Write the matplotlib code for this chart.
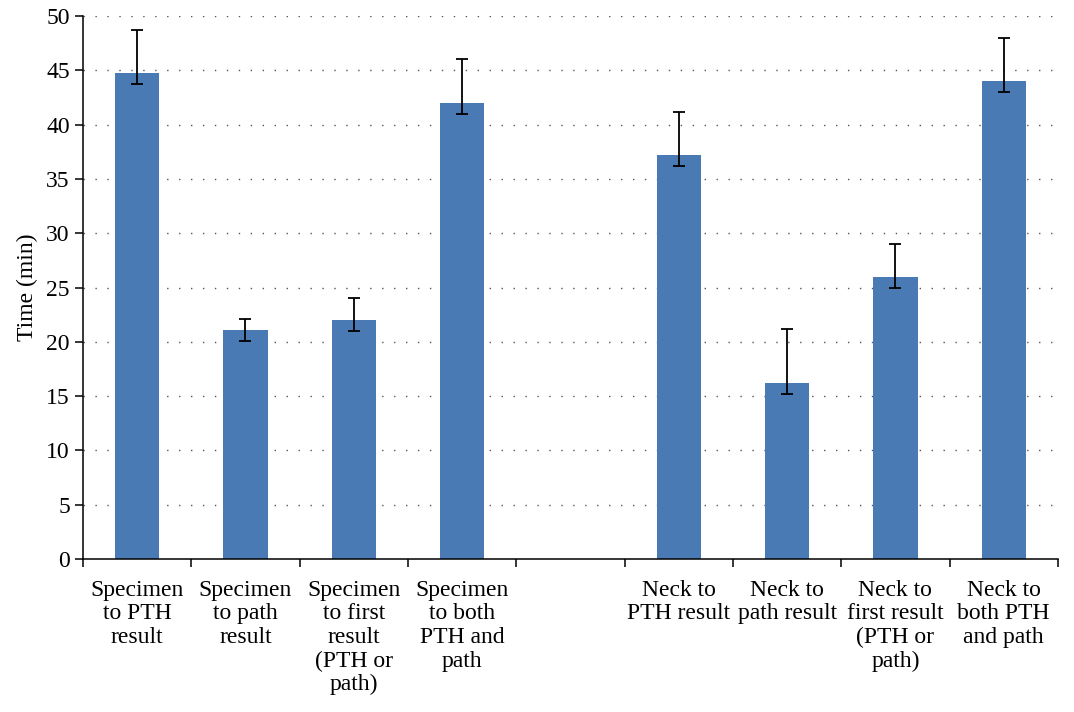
import numpy as np
import matplotlib
matplotlib.use("Agg")
import matplotlib.pyplot as plt

labels = ["Specimen\nto PTH\nresult", "Specimen\nto path\nresult",
          "Specimen\nto first\nresult\n(PTH or\npath)", "Specimen\nto both\nPTH and\npath",
          "", "Neck to\nPTH result", "Neck to\npath result",
          "Neck to\nfirst result\n(PTH or\npath)", "Neck to\nboth PTH\nand path"]
times = [44.75, 21.1, 22.0, 42.0, np.nan, 37.2, 16.2, 26.0, 44.0]
err_low = [1, 1, 1, 1, 0, 1, 1, 1, 1]
err_high = [4, 1, 2, 4, 0, 4, 5, 3, 4]

plt.rcParams['font.family'] = ['Liberation Serif', 'DejaVu Serif']
plt.rcParams['font.size'] = 17

fig = plt.figure(figsize=(10.74, 7.12), dpi=100)
ax = fig.add_axes([0.0773, 0.2149, 0.9077, 0.7626])

x = np.arange(len(times))
ax.bar(x, times, width=0.41, color='#4a7ab4', zorder=2)
ax.errorbar(x, times, yerr=[err_low, err_high], fmt='none', ecolor='black',
            elinewidth=1.3, capsize=4, capthick=1.3, zorder=3)

ax.set_xlim(-0.5, len(times) - 0.5)
ax.set_ylim(0, 50)
ax.set_yticks(np.arange(0, 51, 5))
ax.set_ylabel('Time (min)', labelpad=6)

# category labels between boundary ticks
ax.set_xticks(np.arange(len(times) + 1) - 0.5)
ax.set_xticklabels([])
ax.set_xticks(x, minor=True)
ax.set_xticklabels(labels, minor=True, linespacing=1.16, va='top')
ax.tick_params(axis='x', which='minor', length=0, pad=15)
ax.tick_params(axis='x', which='major', length=5.5, width=1.1, direction='out')
ax.tick_params(axis='y', length=5.5, width=1.1, direction='out', pad=4)

for s in ['top', 'right']:
    ax.spines[s].set_visible(False)
for s in ['left', 'bottom']:
    ax.spines[s].set_linewidth(1.1)

for yv in np.arange(5, 51, 5):
    ax.axhline(yv, color='#555555', lw=1.0, ls=(0, (1, 7.6)), zorder=1)

fig.savefig('out.png', dpi=100)
